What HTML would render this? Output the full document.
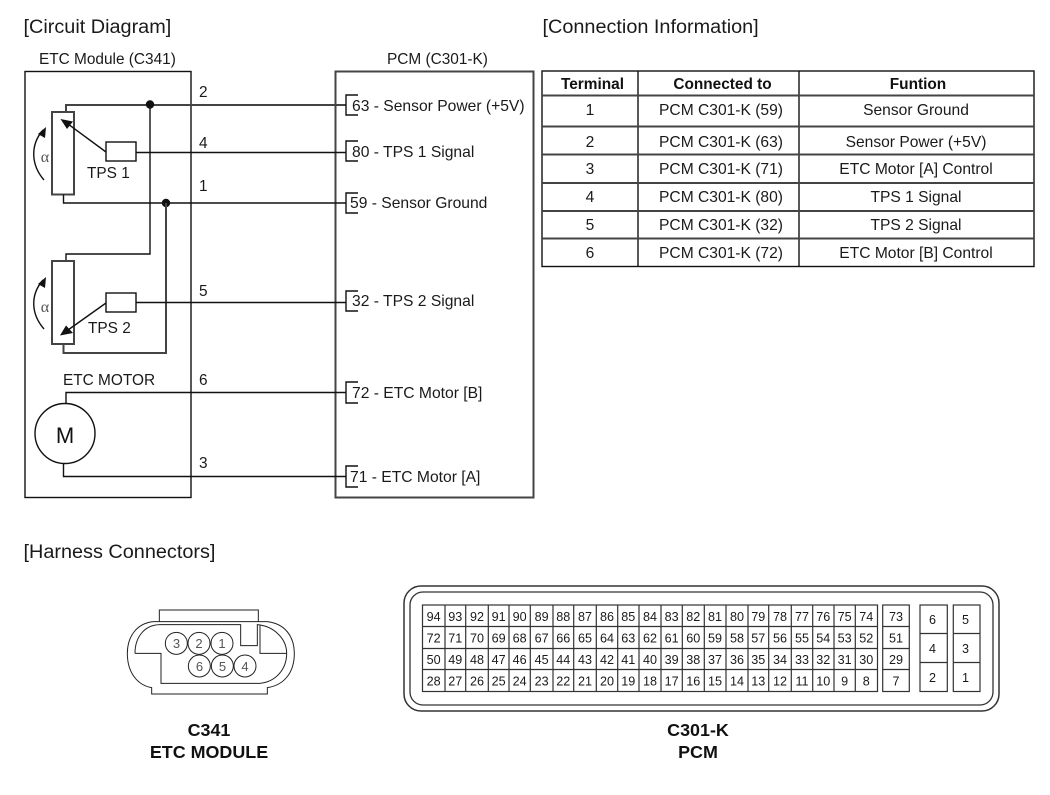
<!DOCTYPE html>
<html><head><meta charset="utf-8">
<style>
html,body{margin:0;padding:0;background:#fff;width:1050px;height:795px;overflow:hidden}
svg{display:block;filter:blur(0.35px)}
text{font-family:"Liberation Sans",sans-serif;fill:#1a1a1a}
.t{font-size:19.85px}
.l{font-size:15.4px}
.s{font-size:15.65px}
.c{font-size:15.6px;text-anchor:middle}
.h{font-size:15.4px;font-weight:bold;text-anchor:middle;fill:#111}
.b{font-size:17.9px;font-weight:bold;text-anchor:middle;fill:#111}
.n{font-size:12.6px;text-anchor:middle}
.w{fill:none;stroke:#111;stroke-width:1.4}
.g{fill:none;stroke:#444;stroke-width:2}
</style></head><body>
<svg width="1050" height="795" viewBox="0 0 1050 795" xmlns="http://www.w3.org/2000/svg">
<rect width="1050" height="795" fill="#fff"/>
<text class="t" x="23.500" y="33">[Circuit Diagram]</text>
<text class="t" x="542.500" y="33">[Connection Information]</text>
<text class="t" x="23.500" y="558">[Harness Connectors]</text>
<text class="l" x="39" y="64">ETC Module (C341)</text>
<text class="l" x="387" y="64">PCM (C301-K)</text>

<rect class="w" x="25" y="71.5" width="166" height="426"/>
<rect class="g" x="335.5" y="71.5" width="198" height="426"/>

<!-- wires -->
<path class="g" d="M66 112V105H346"/>
<path class="w" d="M150 105V254H66V261"/>
<circle cx="150" cy="104.500" r="4.200" fill="#111"/>
<rect class="g" x="52" y="112" width="22" height="82.500"/>
<rect class="w" x="106" y="142" width="30" height="19"/>
<path class="w" d="M136 152.500H346"/>
<path class="w" d="M106 152L68 124"/>
<path d="M60.500 119L73 121.500L67 129Z" fill="#111"/>
<path class="w" d="M63.500 194.500V203H346"/>
<circle cx="166" cy="203" r="4.200" fill="#111"/>
<path class="g" d="M166 203V353H63.500V344"/>
<rect class="g" x="52" y="261" width="22" height="83"/>
<rect class="w" x="106" y="293" width="30" height="19"/>
<path class="w" d="M136 302.500H346"/>
<path class="w" d="M106 303L68 330"/>
<path d="M60 335.500L66 325.500L73 333Z" fill="#111"/>
<path class="w" d="M66 404V392.500H346"/>
<circle class="w" cx="65" cy="433.500" r="30"/>
<path class="w" d="M63.500 464V476.500H346"/>

<!-- arcs -->
<path class="w" d="M44 180C31 165 30 145 43 130"/>
<path d="M46 127L45 138L38 134Z" fill="#111"/>
<path class="w" d="M44 329C31 314 30 295 43 280"/>
<path d="M46 277L45 288L38 284Z" fill="#111"/>
<text x="45" y="162" font-size="16" text-anchor="middle" style="font-family:'Liberation Serif',serif;fill:#555">α</text>
<text x="45" y="312" font-size="16" text-anchor="middle" style="font-family:'Liberation Serif',serif;fill:#555">α</text>

<text class="l" x="199" y="97">2</text>
<text class="l" x="199" y="148">4</text>
<text class="l" x="199" y="191">1</text>
<text class="l" x="199" y="296">5</text>
<text class="l" x="199" y="385">6</text>
<text class="l" x="199" y="468">3</text>
<text class="l" x="87" y="178">TPS 1</text>
<text class="l" x="88" y="333">TPS 2</text>
<text class="l" x="63" y="385">ETC MOTOR</text>
<text x="65" y="443" font-size="22" text-anchor="middle" style="fill:#111">M</text>

<!-- brackets -->
<path class="w" d="M358 95H346V115H358"/>
<path class="w" d="M358 141H346V161H358"/>
<path class="w" d="M358 193H346V213H358"/>
<path class="w" d="M358 291H346V311H358"/>
<path class="w" d="M358 382H346V403H358"/>
<path class="w" d="M358 466H346V487H358"/>
<text class="s" x="352" y="111">63 - Sensor Power (+5V)</text>
<text class="s" x="352" y="157">80 - TPS 1 Signal</text>
<text class="s" x="350" y="208">59 - Sensor Ground</text>
<text class="s" x="352" y="306">32 - TPS 2 Signal</text>
<text class="s" x="352" y="398">72 - ETC Motor [B]</text>
<text class="s" x="350" y="482">71 - ETC Motor [A]</text>

<!-- table -->
<rect class="w" x="542" y="71" width="492" height="195.500"/>
<path class="w" d="M638 71V266M799 71V266"/>
<path class="g" d="M542 95.500H1034M542 126.500H1034M542 154.500H1034M542 183H1034M542 211H1034M542 238.500H1034"/>
<text class="h" x="592.500" y="89">Terminal</text>
<text class="h" x="722.500" y="89">Connected to</text>
<text class="h" x="918" y="89">Funtion</text>
<text class="c" x="590" y="115">1</text><text class="c" x="721" y="115">PCM C301-K (59)</text><text class="c" x="916" y="115">Sensor Ground</text>
<text class="c" x="590" y="147">2</text><text class="c" x="721" y="147">PCM C301-K (63)</text><text class="c" x="916" y="147">Sensor Power (+5V)</text>
<text class="c" x="590" y="174">3</text><text class="c" x="721" y="174">PCM C301-K (71)</text><text class="c" x="916" y="174">ETC Motor [A] Control</text>
<text class="c" x="590" y="202">4</text><text class="c" x="721" y="202">PCM C301-K (80)</text><text class="c" x="916" y="202">TPS 1 Signal</text>
<text class="c" x="590" y="230">5</text><text class="c" x="721" y="230">PCM C301-K (32)</text><text class="c" x="916" y="230">TPS 2 Signal</text>
<text class="c" x="590" y="258">6</text><text class="c" x="721" y="258">PCM C301-K (72)</text><text class="c" x="916" y="258">ETC Motor [B] Control</text>

<!-- C341 -->
<g transform="translate(110,590) scale(0.33333)" fill="none" stroke="#222" stroke-width="3">
<path d="M148 95V60H445V95"/>
<path d="M130 95H470C525 100 553 140 553 190C553 245 525 285 472 293V312H125V293C80 285 52 245 52 190C52 140 80 100 130 95Z"/>
<path d="M75 190C75 145 100 105 150 104H392V167H442V104C490 108 530 145 530 190H450V104M530 190C530 235 500 275 450 280H153V190H75"/>
<g fill="#fff">
<circle cx="199" cy="160" r="33"/><circle cx="267" cy="160" r="33"/><circle cx="336" cy="160" r="33"/>
<circle cx="268" cy="228" r="33"/><circle cx="337" cy="228" r="33"/><circle cx="405" cy="228" r="33"/>
</g>
</g>
<g font-size="13" text-anchor="middle">
<text x="176.500" y="648" style="fill:#555">3</text><text x="199" y="648" style="fill:#555">2</text><text x="222" y="648" style="fill:#555">1</text>
<text x="199.500" y="671" style="fill:#555">6</text><text x="222.500" y="671" style="fill:#555">5</text><text x="245" y="671" style="fill:#555">4</text>
</g>
<text class="b" x="209" y="736">C341</text>
<text class="b" x="209" y="758">ETC MODULE</text>
<text class="b" x="698" y="736">C301-K</text>
<text class="b" x="698" y="758">PCM</text>

<!-- C301-K -->
<rect x="404" y="586" width="595" height="125" rx="17" fill="none" stroke="#333" stroke-width="1.5"/>
<rect x="410" y="592" width="583" height="113" rx="13" fill="none" stroke="#333" stroke-width="1.3"/>
<g fill="none" stroke="#333" stroke-width="1.2">
<rect x="422.500" y="605" width="455" height="86.500"/>
<path d="M445 605V691.500M465.700 605V691.500M488.300 605V691.500M509 605V691.500M530.300 605V691.500M553 605V691.500M573.700 605V691.500M596.300 605V691.500M617.700 605V691.500M639 605V691.500M661 605V691.500M682.300 605V691.500M704.300 605V691.500M726 605V691.500M748 605V691.500M768.700 605V691.500M791.300 605V691.500M812.700 605V691.500M834 605V691.500M855.300 605V691.500"/>
<path d="M422.500 626.500H877.500M422.500 648.500H877.500M422.500 669.500H877.500"/>
<rect x="882.700" y="605" width="26.600" height="86.500"/>
<path d="M882.700 626.500H909.300M882.700 648.500H909.300M882.700 669.500H909.300"/>
<rect x="920" y="605" width="27.300" height="86.500"/>
<path d="M920 633.500H947.300M920 662.500H947.300"/>
<rect x="953.300" y="605" width="26.700" height="86.500"/>
<path d="M953.300 633.500H980M953.300 662.500H980"/>
</g>
<g class="r">
<text class="n" x="433.600" y="621">94</text><text class="n" x="455.300" y="621">93</text><text class="n" x="477" y="621">92</text><text class="n" x="498.600" y="621">91</text><text class="n" x="519.600" y="621">90</text><text class="n" x="541.600" y="621">89</text><text class="n" x="563.300" y="621">88</text><text class="n" x="585" y="621">87</text><text class="n" x="607" y="621">86</text><text class="n" x="628.300" y="621">85</text><text class="n" x="650" y="621">84</text><text class="n" x="671.600" y="621">83</text><text class="n" x="693.300" y="621">82</text><text class="n" x="715" y="621">81</text><text class="n" x="737" y="621">80</text><text class="n" x="758.300" y="621">79</text><text class="n" x="780" y="621">78</text><text class="n" x="802" y="621">77</text><text class="n" x="823.300" y="621">76</text><text class="n" x="844.600" y="621">75</text><text class="n" x="866.300" y="621">74</text>
<text class="n" x="433.600" y="642.500">72</text><text class="n" x="455.300" y="642.500">71</text><text class="n" x="477" y="642.500">70</text><text class="n" x="498.600" y="642.500">69</text><text class="n" x="519.600" y="642.500">68</text><text class="n" x="541.600" y="642.500">67</text><text class="n" x="563.300" y="642.500">66</text><text class="n" x="585" y="642.500">65</text><text class="n" x="607" y="642.500">64</text><text class="n" x="628.300" y="642.500">63</text><text class="n" x="650" y="642.500">62</text><text class="n" x="671.600" y="642.500">61</text><text class="n" x="693.300" y="642.500">60</text><text class="n" x="715" y="642.500">59</text><text class="n" x="737" y="642.500">58</text><text class="n" x="758.300" y="642.500">57</text><text class="n" x="780" y="642.500">56</text><text class="n" x="802" y="642.500">55</text><text class="n" x="823.300" y="642.500">54</text><text class="n" x="844.600" y="642.500">53</text><text class="n" x="866.300" y="642.500">52</text>
<text class="n" x="433.600" y="664">50</text><text class="n" x="455.300" y="664">49</text><text class="n" x="477" y="664">48</text><text class="n" x="498.600" y="664">47</text><text class="n" x="519.600" y="664">46</text><text class="n" x="541.600" y="664">45</text><text class="n" x="563.300" y="664">44</text><text class="n" x="585" y="664">43</text><text class="n" x="607" y="664">42</text><text class="n" x="628.300" y="664">41</text><text class="n" x="650" y="664">40</text><text class="n" x="671.600" y="664">39</text><text class="n" x="693.300" y="664">38</text><text class="n" x="715" y="664">37</text><text class="n" x="737" y="664">36</text><text class="n" x="758.300" y="664">35</text><text class="n" x="780" y="664">34</text><text class="n" x="802" y="664">33</text><text class="n" x="823.300" y="664">32</text><text class="n" x="844.600" y="664">31</text><text class="n" x="866.300" y="664">30</text>
<text class="n" x="433.600" y="685.500">28</text><text class="n" x="455.300" y="685.500">27</text><text class="n" x="477" y="685.500">26</text><text class="n" x="498.600" y="685.500">25</text><text class="n" x="519.600" y="685.500">24</text><text class="n" x="541.600" y="685.500">23</text><text class="n" x="563.300" y="685.500">22</text><text class="n" x="585" y="685.500">21</text><text class="n" x="607" y="685.500">20</text><text class="n" x="628.300" y="685.500">19</text><text class="n" x="650" y="685.500">18</text><text class="n" x="671.600" y="685.500">17</text><text class="n" x="693.300" y="685.500">16</text><text class="n" x="715" y="685.500">15</text><text class="n" x="737" y="685.500">14</text><text class="n" x="758.300" y="685.500">13</text><text class="n" x="780" y="685.500">12</text><text class="n" x="802" y="685.500">11</text><text class="n" x="823.300" y="685.500">10</text><text class="n" x="844.600" y="685.500">9</text><text class="n" x="866.300" y="685.500">8</text>
<text class="n" x="896" y="621">73</text><text class="n" x="896" y="642.500">51</text><text class="n" x="896" y="664">29</text><text class="n" x="896" y="685.500">7</text>
<text class="n" x="932.500" y="624">6</text><text class="n" x="932.500" y="653">4</text><text class="n" x="932.500" y="682">2</text>
<text class="n" x="965.500" y="624">5</text><text class="n" x="965.500" y="653">3</text><text class="n" x="965.500" y="682">1</text>
</g>
</svg>
</body></html>
